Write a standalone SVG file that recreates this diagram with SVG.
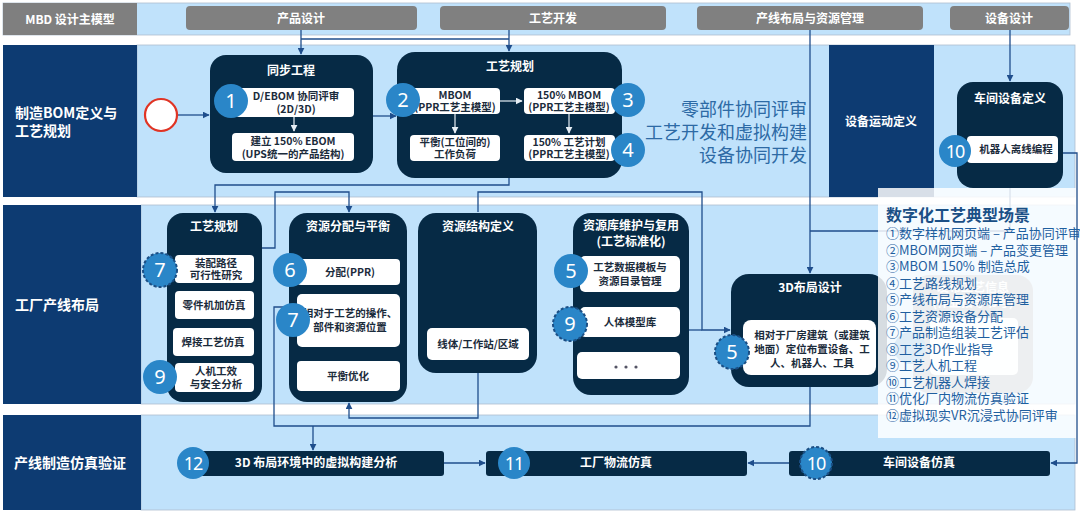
<svg xmlns="http://www.w3.org/2000/svg" width="1080" height="516" viewBox="0 0 1080 516">
<defs>
<style>
text{font-family:"Noto Sans CJK SC","Noto Sans",sans-serif}
.band{fill:#c0e2fb;stroke:#aebfcf;stroke-width:0.8}
.lab{fill:#0d3b72}
.lt{fill:#fff;font-weight:bold;font-size:14px}
.pill{fill:#808080}
.pt{fill:#fff;font-weight:bold;font-size:12px;text-anchor:middle}
.node{fill:#062a45}
.nt{fill:#fff;font-weight:bold;font-size:12px;text-anchor:middle}
.box{fill:#fff}
.bt{fill:#1b2b3b;font-weight:bold;font-size:10.5px;text-anchor:middle}
.num{fill:#2a86c8}
.numd{fill:#2a86c8;stroke:#1b4f85;stroke-width:2;stroke-dasharray:3 2}
.n{fill:#fff;font-family:"Noto Sans","Liberation Sans",sans-serif;font-size:20px;text-anchor:middle}
.n2{fill:#fff;font-family:"Noto Sans","Liberation Sans",sans-serif;font-size:18px;text-anchor:middle;letter-spacing:-1px}
.c{fill:none;stroke:#1f4e8c;stroke-width:1.3}
.cw{fill:none;stroke:#e6eef5;stroke-width:1.2}
.big{fill:#2d6aa5;font-size:18px;text-anchor:end}
.lg{fill:#1f5f9f;font-size:13px}
</style>
<marker id="a" viewBox="0 0 10 10" refX="9" refY="5" markerWidth="7" markerHeight="7" orient="auto-start-reverse" markerUnits="userSpaceOnUse"><path d="M0,0 L10,5 L0,10 z" fill="#1f4e8c"/></marker>
<marker id="aw" viewBox="0 0 10 10" refX="9" refY="5" markerWidth="7" markerHeight="7" orient="auto" markerUnits="userSpaceOnUse"><path d="M0,0 L10,5 L0,10 z" fill="#e6eef5"/></marker>
</defs>
<rect width="1080" height="516" fill="#fff"/>

<g id="bands">
<rect class="band" x="3" y="3" width="1067" height="32"/>
<rect class="band" x="137" y="45" width="938" height="152"/>
<rect class="band" x="141" y="205" width="934" height="199"/>
<rect class="band" x="141" y="415" width="934" height="95"/>
</g>

<g id="lane-mbd"><rect x="3" y="3" width="134" height="32" fill="#7f7f7f"/><text x="70" y="24" class="pt" font-size="13">MBD 设计主模型</text></g>
<g id="lane-1"><rect class="lab" x="3" y="45" width="134" height="152"/><text class="lt" x="15" y="118">制造BOM定义与</text><text class="lt" x="15" y="136">工艺规划</text></g>
<g id="lane-2"><rect class="lab" x="3" y="205" width="138" height="199"/><text class="lt" x="15" y="310">工厂产线布局</text></g>
<g id="lane-3"><rect class="lab" x="3" y="415" width="138" height="95"/><text class="lt" x="14" y="468">产线制造仿真验证</text></g>

<g id="pill-product"><rect class="pill" x="186" y="6" width="231" height="24" rx="4"/><text class="pt" x="301" y="23">产品设计</text></g>
<g id="pill-process"><rect class="pill" x="440" y="6" width="226" height="24" rx="4"/><text class="pt" x="553" y="23">工艺开发</text></g>
<g id="pill-layout"><rect class="pill" x="697" y="6" width="226" height="24" rx="4"/><text class="pt" x="810" y="23">产线布局与资源管理</text></g>
<g id="pill-equip"><rect class="pill" x="950" y="6" width="119" height="24" rx="4"/><text class="pt" x="1009" y="23">设备设计</text></g>

<g id="node-publish" opacity="0.9">
<rect x="913" y="275" width="120" height="118" rx="16" fill="#8e959c"/>
<text class="nt" x="973" y="292">发布工艺信息</text>
<text class="nt" x="973" y="307">(作业指导书号)</text>
<rect class="box" x="930" y="318" width="88" height="57" rx="5"/>
<circle class="num" cx="910" cy="348" r="16"/>
</g>

<g id="connectors">
<path class="c" d="M301,30 V54" marker-end="url(#a)"/>
<path class="c" d="M301,39 H509"/>
<path class="c" d="M509,30 V51" marker-end="url(#a)"/>
<path class="c" d="M810,30 V273" marker-end="url(#a)"/>
<path class="c" d="M1010,30 V81" marker-end="url(#a)"/>
<path class="c" d="M1010,188 V231 H810"/>
<path class="c" d="M177,115 H209" marker-end="url(#a)"/>
<path class="c" d="M373,116 H396" marker-end="url(#a)"/>
<path class="c" d="M509,178 V185 H215 V212" marker-end="url(#a)"/>
<path class="c" d="M262,248 H275 V192 H349 V212" marker-end="url(#a)"/>
<path class="c" d="M478,212 V192 H702 V330 H730" marker-end="url(#a)"/>
<path class="c" d="M680,330 H702"/>
<path class="c" d="M478,373 V418 H349 V403" marker-end="url(#a)"/>
<path class="c" d="M297,307 H274 V426 H810 V387"/>
<path class="c" d="M313,426 V450" marker-end="url(#a)"/>
<path class="c" d="M1063,153 H1077 V463 H1051" marker-end="url(#a)"/>
<path class="c" d="M444,463 H485" marker-end="url(#a)"/>
<path class="c" d="M789,463 H748" marker-end="url(#a)"/>
</g>

<g id="start"><circle cx="161" cy="115" r="16" fill="#fff" stroke="#e03424" stroke-width="2.2"/></g>

<g id="node-sync">
<rect class="node" x="210" y="55" width="163" height="118" rx="16"/>
<text class="nt" x="291" y="75">同步工程</text>
<rect class="box" x="235" y="88" width="119" height="29" rx="4"/>
<text class="bt" x="296" y="100">D/EBOM 协同评审</text>
<text class="bt" x="296" y="113">(2D/3D)</text>
<path class="cw" d="M294,117 V131" marker-end="url(#aw)"/>
<rect class="box" x="232" y="133" width="122" height="28" rx="4"/>
<text class="bt" x="293" y="145">建立 150% EBOM</text>
<text class="bt" x="293" y="158">(UPS统一的产品结构)</text>
<circle class="num" cx="231" cy="101" r="17"/><text class="n" x="231" y="108">1</text>
</g>

<g id="node-plan1">
<rect class="node" x="397" y="52" width="225" height="126" rx="18"/>
<text class="nt" x="510" y="71">工艺规划</text>
<rect class="box" x="410" y="88" width="90" height="26" rx="4"/>
<text class="bt" x="455" y="99">MBOM</text>
<text class="bt" x="455" y="111">(PPR工艺主模型)</text>
<rect class="box" x="410" y="135" width="90" height="26" rx="4"/>
<text class="bt" x="455" y="146">平衡(工位间的)</text>
<text class="bt" x="455" y="158">工作负荷</text>
<rect class="box" x="524" y="88" width="91" height="26" rx="4"/>
<text class="bt" x="569" y="99">150% MBOM</text>
<text class="bt" x="569" y="111">(PPR工艺主模型)</text>
<rect class="box" x="524" y="135" width="91" height="26" rx="4"/>
<text class="bt" x="569" y="146">150% 工艺计划</text>
<text class="bt" x="569" y="158">(PPR工艺主模型)</text>
<path class="cw" d="M500,101 H522" marker-end="url(#aw)"/>
<path class="cw" d="M455,114 V133" marker-end="url(#aw)"/>
<path class="cw" d="M569,114 V133" marker-end="url(#aw)"/>
<circle class="num" cx="403" cy="100" r="17"/><text class="n" x="403" y="107">2</text>
<circle class="num" cx="628" cy="100" r="17"/><text class="n" x="628" y="107">3</text>
<circle class="num" cx="628" cy="150" r="17"/><text class="n" x="628" y="157">4</text>
</g>

<g id="summary-text">
<text class="big" x="807" y="116">零部件协同评审</text>
<text class="big" x="807" y="139">工艺开发和虚拟构建</text>
<text class="big" x="807" y="162">设备协同开发</text>
</g>

<g id="node-motion"><rect class="lab" x="829" y="45" width="105" height="152"/><text class="nt" x="881" y="126" font-size="14">设备运动定义</text></g>

<g id="node-workshop">
<rect class="node" x="957" y="82" width="106" height="106" rx="16"/>
<text class="nt" x="1010" y="103">车间设备定义</text>
<rect class="box" x="967" y="136" width="91" height="27" rx="4"/>
<text class="bt" x="1016" y="153">机器人离线编程</text>
<circle class="num" cx="955" cy="151" r="16"/><text class="n2" x="955" y="158">10</text>
</g>

<g id="node-plan2">
<rect class="node" x="167" y="213" width="95" height="189" rx="16"/>
<text class="nt" x="214" y="231">工艺规划</text>
<rect class="box" x="175" y="255" width="79" height="28" rx="4"/>
<text class="bt" x="216" y="267">装配路径</text>
<text class="bt" x="216" y="279">可行性研究</text>
<rect class="box" x="175" y="291" width="79" height="28" rx="4"/>
<text class="bt" x="214" y="309">零件机加仿真</text>
<rect class="box" x="173" y="328" width="81" height="28" rx="4"/>
<text class="bt" x="213" y="346">焊接工艺仿真</text>
<rect class="box" x="175" y="363" width="79" height="29" rx="4"/>
<text class="bt" x="216" y="375">人机工效</text>
<text class="bt" x="216" y="388">与安全分析</text>
<circle class="numd" cx="160" cy="270" r="17"/><text class="n" x="160" y="277">7</text>
<circle class="num" cx="160" cy="377" r="17"/><text class="n" x="160" y="384">9</text>
</g>

<g id="node-alloc">
<rect class="node" x="289" y="213" width="118" height="189" rx="18"/>
<text class="nt" x="348" y="231">资源分配与平衡</text>
<rect class="box" x="297" y="259" width="103" height="26" rx="4"/>
<text class="bt" x="350" y="276">分配(PPR)</text>
<rect class="box" x="297" y="294" width="103" height="53" rx="5"/>
<text class="bt" x="350" y="317">相对于工艺的操作、</text>
<text class="bt" x="350" y="331">部件和资源位置</text>
<rect class="box" x="297" y="361" width="103" height="30" rx="4"/>
<text class="bt" x="348" y="380">平衡优化</text>
<circle class="num" cx="290" cy="270" r="17"/><text class="n" x="290" y="277">6</text>
<circle class="num" cx="293" cy="320" r="17"/><text class="n" x="293" y="327">7</text>
</g>

<g id="node-struct">
<rect class="node" x="418" y="213" width="119" height="160" rx="18"/>
<text class="nt" x="478" y="231">资源结构定义</text>
<rect class="box" x="427" y="328" width="102" height="32" rx="5"/>
<text class="bt" x="478" y="348">线体/工作站/区域</text>
</g>

<g id="node-library">
<rect class="node" x="573" y="213" width="116" height="182" rx="18"/>
<text class="nt" x="631" y="230">资源库维护与复用</text>
<text class="nt" x="631" y="246">(工艺标准化)</text>
<rect class="box" x="580" y="256" width="100" height="36" rx="5"/>
<text class="bt" x="630" y="271">工艺数据模板与</text>
<text class="bt" x="630" y="285">资源目录管理</text>
<rect class="box" x="580" y="307" width="100" height="30" rx="5"/>
<text class="bt" x="630" y="326">人体模型库</text>
<rect class="box" x="577" y="352" width="103" height="27" rx="5"/>
<circle cx="616" cy="367" r="1.6" fill="#556"/><circle cx="626" cy="367" r="1.6" fill="#556"/><circle cx="636" cy="367" r="1.6" fill="#556"/>
<circle class="num" cx="571" cy="271" r="17"/><text class="n" x="571" y="278">5</text>
<circle class="numd" cx="570" cy="324" r="17"/><text class="n" x="570" y="331">9</text>
</g>

<g id="node-3d">
<rect class="node" x="731" y="274" width="156" height="113" rx="18"/>
<text class="nt" x="810" y="292">3D布局设计</text>
<rect class="box" x="743" y="320" width="133" height="55" rx="8"/>
<text class="bt" x="812" y="339">相对于厂房建筑（或建筑</text>
<text class="bt" x="812" y="353">地面）定位布置设备、工</text>
<text class="bt" x="812" y="367">人、机器人、工具</text>
<circle class="numd" cx="732" cy="352" r="17"/><text class="n" x="732" y="359">5</text>
</g>

<g id="node-virtual">
<rect class="node" x="200" y="451" width="244" height="25" rx="3"/>
<text class="nt" x="316" y="467" font-size="11.5">3D 布局环境中的虚拟构建分析</text>
<circle class="num" cx="193" cy="463" r="16"/><text class="n2" x="193" y="470">12</text>
</g>
<g id="node-logistics">
<rect class="node" x="486" y="451" width="261" height="25" rx="3"/>
<text class="nt" x="616" y="467" font-size="11.5">工厂物流仿真</text>
<circle class="num" cx="514" cy="463" r="16"/><text class="n2" x="514" y="470">11</text>
</g>
<g id="node-equipsim">
<rect class="node" x="789" y="451" width="261" height="25" rx="3"/>
<text class="nt" x="919" y="467" font-size="11.5">车间设备仿真</text>
<circle class="numd" cx="816" cy="463" r="16"/><text class="n2" x="816" y="470">10</text>
</g>

<g id="legend">
<rect x="878" y="188" width="198" height="250" fill="#fff" fill-opacity="0.84"/>
<text x="886" y="221" fill="#1a4f86" font-size="16" font-weight="bold">数字化工艺典型场景</text>
<text class="lg" x="886" y="238">①数字样机网页端 – 产品协同评审</text>
<text class="lg" x="886" y="254.5">②MBOM网页端 – 产品变更管理</text>
<text class="lg" x="886" y="271">③MBOM 150% 制造总成</text>
<text class="lg" x="886" y="287.5">④工艺路线规划</text>
<text class="lg" x="886" y="304">⑤产线布局与资源库管理</text>
<text class="lg" x="886" y="320.5">⑥工艺资源设备分配</text>
<text class="lg" x="886" y="337">⑦产品制造组装工艺评估</text>
<text class="lg" x="886" y="353.5">⑧工艺3D作业指导</text>
<text class="lg" x="886" y="370">⑨工艺人机工程</text>
<text class="lg" x="886" y="386.5">⑩工艺机器人焊接</text>
<text class="lg" x="886" y="403">⑪优化厂内物流仿真验证</text>
<text class="lg" x="886" y="419.5">⑫虚拟现实VR沉浸式协同评审</text>
</g>
</svg>
